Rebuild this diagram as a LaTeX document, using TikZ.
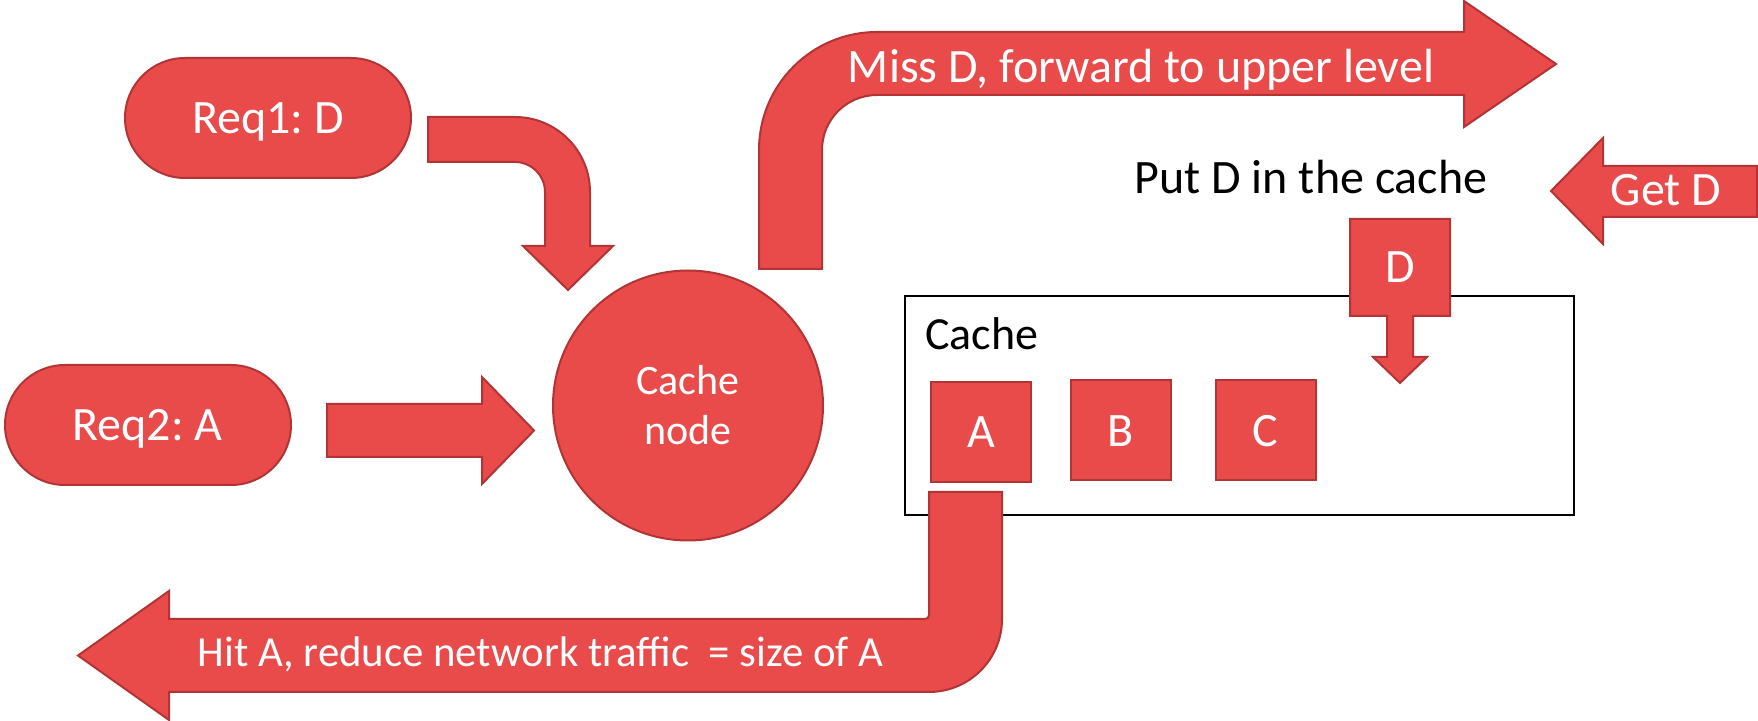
\documentclass[tikz,border=0pt]{standalone}
\usepackage{fontspec}
\setmainfont{Carlito}
\definecolor{cfill}{HTML}{E94A4A}
\definecolor{cedge}{HTML}{B23434}
\frenchspacing
\begin{document}
\begin{tikzpicture}[x=0.5pt,y=-0.5pt,
  shp/.style={fill=cfill,draw=cedge,line width=1pt},
  pill/.style={shp,rounded corners=30pt,minimum width=143pt,minimum height=60pt,inner sep=0pt},
  slot/.style={shp,minimum size=50pt,inner sep=0pt},
  wt/.style={text=white,inner sep=0pt,anchor=base,font=\fontsize{24}{29}\selectfont},
  bt/.style={text=black,inner sep=0pt,anchor=base,font=\fontsize{24}{29}\selectfont}]
\useasboundingbox (0,0) rectangle (1758,721);

% requests
\node[pill] (req1) at (268,118) {};
\node[wt] (req1t) at (268,134) {Req1: D};
\node[pill] (req2) at (148,425) {};
\node[wt] (req2t) at (147.5,441) {Req2: A};

% cache node
\node[shp,circle,minimum size=135pt,inner sep=0pt] (cn) at (688,405.5) {};
\node[wt,font=\fontsize{21}{25}\selectfont] (cnt1) at (688,395) {Cache};
\node[wt,font=\fontsize{21}{25}\selectfont] (cnt2) at (688,445) {node};

% request 1 bent arrow
\draw[shp] (428,117) -- (515,117) .. controls (556.4,117) and (590,150.6) .. (590,192)
  -- (590,246) -- (613,246) -- (568,290) -- (523,246) -- (545,246) -- (545,192)
  .. controls (545,175.4) and (531.6,162) .. (515,162) -- (428,162) -- cycle;

% request 2 arrow
\draw[shp] (327,404) -- (482,404) -- (482,377) -- (534,430.5) -- (482,484) -- (482,457) -- (327,457) -- cycle;

% miss: forward upwards
\draw[shp] (759,269) -- (759,150) .. controls (759,84.8) and (811.8,32) .. (877,32)
  -- (1464,32) -- (1464,1) -- (1556,64) -- (1464,127) -- (1464,95) -- (877,95)
  .. controls (846.6,95) and (822,119.6) .. (822,150) -- (822,269) -- cycle;
\node[wt] (misst) at (1141,83) {Miss D, forward to upper level};

% reply from upper level
\draw[shp] (1757,166) -- (1603,166) -- (1603,138) -- (1551,191) -- (1603,244) -- (1603,217) -- (1757,217) -- cycle;
\node[wt] (gett) at (1666,206) {Get D};
\node[bt] (putt) at (1311,194) {Put D in the cache};

% cache store
\node[draw=black,line width=1pt,minimum width=334.5pt,minimum height=109.5pt,inner sep=0pt] (cache) at (1239.5,405.5) {};
\node[bt,anchor=base west,font=\fontsize{23}{28}\selectfont] (cachet) at (925,350) {Cache};
\node[slot] (sa) at (981,432) {};
\node[slot] (sb) at (1121,430.5) {};
\node[slot] (sc) at (1265.5,430.5) {};
\node[wt] at (981,448) {A};
\node[wt] at (1121,447) {B};
\node[wt] at (1265.5,447) {C};

% D inserted into cache
\draw[shp] (1350,219) -- (1450,219) -- (1450,316) -- (1413,316) -- (1413,357) -- (1427,357)
  -- (1400,383) -- (1373,357) -- (1387,357) -- (1387,316) -- (1350,316) -- cycle;
\node[wt] (dt) at (1400,283) {D};

% hit: reply served from cache
\draw[shp] (929,492) -- (1002,492) -- (1002,619) .. controls (1002,659.3) and (969.3,692) .. (929,692)
  -- (169,692) -- (169,720) -- (78,655.5) -- (169,591) -- (169,619) -- (925,619)
  .. controls (927.5,619) and (929,617.5) .. (929,615) -- cycle;
\node[wt,font=\fontsize{21.4}{25}\selectfont] (hitt) at (540.5,667) {Hit A, reduce network traffic\ \ = size of A};
\end{tikzpicture}
\end{document}
